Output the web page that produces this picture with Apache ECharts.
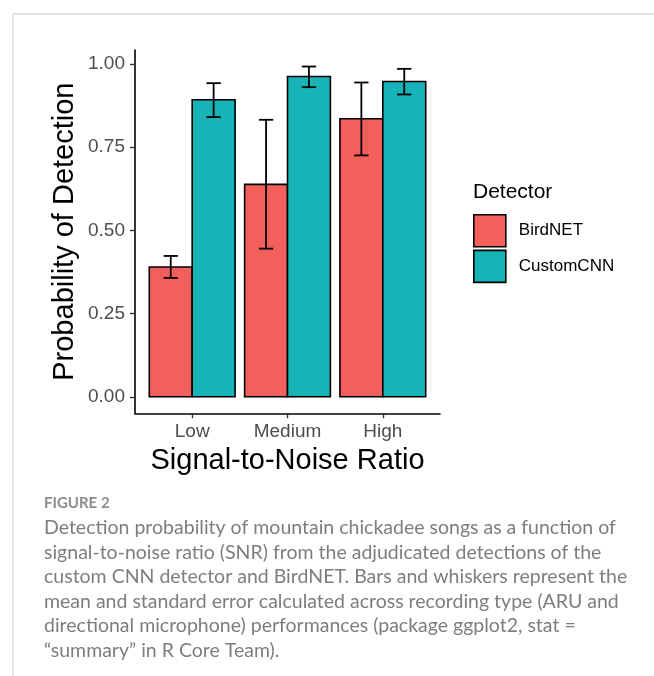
<!DOCTYPE html>
<html>
<head>
<meta charset="utf-8">
<script src="https://cdn.jsdelivr.net/npm/echarts@6/dist/echarts.min.js"></script>
<style>
  html, body { margin: 0; padding: 0; background: #fff; }
  #chart { width: 654px; height: 676px; }
</style>
</head>
<body>
<div id="chart"></div>
<script>
// SNR classes on the x axis (positions 1..3)
const categories = ['Low', 'Medium', 'High'];
const detectors = ['BirdNET', 'CustomCNN'];

// Mean detection probability and standard-error bounds per SNR class
const birdnetMean = [0.390, 0.638, 0.835];
const birdnetLow  = [0.357, 0.445, 0.725];
const birdnetHigh = [0.423, 0.832, 0.944];

const cnnMean = [0.892, 0.962, 0.947];
const cnnLow  = [0.840, 0.930, 0.908];
const cnnHigh = [0.942, 0.992, 0.985];

const yTicks = [0, 0.25, 0.5, 0.75, 1.0];
const yTickLabels = ['0.00', '0.25', '0.50', '0.75', '1.00'];

const captionLines = [
  'Detection probability of mountain chickadee songs as a function of',
  'signal-to-noise ratio (SNR) from the adjudicated detections of the',
  'custom CNN detector and BirdNET. Bars and whiskers represent the',
  'mean and standard error calculated across recording type (ARU and',
  'directional microphone) performances (package ggplot2, stat =',
  '\u201csummary\u201d in R Core Team).'
];

const colors = { BirdNET: '#F35F5B', CustomCNN: '#18B3B7' };
const dodge = 0.225;     // half of the dodge width (0.45 per bar)
const barHalf = 0.225;
const capHalf = 0.075;

function rows(mean, lo, hi, off) {
  return mean.map((m, i) => [i + 1 + off, m, lo[i], hi[i]]);
}

const birdRows = rows(birdnetMean, birdnetLow, birdnetHigh, -dodge);
const cnnRows = rows(cnnMean, cnnLow, cnnHigh, dodge);

// y range expanded by 5% of the data range, like ggplot's default
const dataMax = Math.max(...birdnetHigh, ...cnnHigh);
const yMin = -0.05 * dataMax;
const yMax = dataMax * 1.05;

function renderBar(color) {
  return function (params, api) {
    const x = api.value(0), m = api.value(1);
    const p0 = api.coord([x - barHalf, m]);
    const p1 = api.coord([x + barHalf, 0]);
    return {
      type: 'rect',
      shape: { x: p0[0], y: p0[1], width: p1[0] - p0[0], height: p1[1] - p0[1] },
      style: { fill: color, stroke: '#000', lineWidth: 1.6 }
    };
  };
}

function renderErr(params, api) {
  const x = api.value(0), lo = api.value(2), hi = api.value(3);
  const top = api.coord([x, hi]);
  const bot = api.coord([x, lo]);
  const cl = api.coord([x - capHalf, hi])[0];
  const cr = api.coord([x + capHalf, hi])[0];
  const st = { stroke: '#000', lineWidth: 1.8 };
  return {
    type: 'group',
    children: [
      { type: 'line', shape: { x1: top[0], y1: top[1], x2: bot[0], y2: bot[1] }, style: st },
      { type: 'line', shape: { x1: cl, y1: top[1], x2: cr, y2: top[1] }, style: st },
      { type: 'line', shape: { x1: cl, y1: bot[1], x2: cr, y2: bot[1] }, style: st }
    ]
  };
}

const font = '"Liberation Sans", Arial, sans-serif';
const capFont = 'Lato, "Open Sans", sans-serif';

const graphics = [
  { type: 'line', shape: { x1: 13, y1: 14, x2: 654, y2: 14 }, style: { stroke: '#d9d9d9', lineWidth: 1.5 } },
  { type: 'line', shape: { x1: 13, y1: 14, x2: 13, y2: 676 }, style: { stroke: '#d9d9d9', lineWidth: 1.5 } },
  { type: 'text', left: 473, top: 182, style: { text: 'Detector', font: '21px ' + font, fill: '#000' } },
  { type: 'text', left: 44, top: 496, style: { text: 'FIGURE 2', font: 'bold 15px ' + capFont, fill: '#8c8c8c' } }
];
captionLines.forEach((t, i) => {
  graphics.push({
    type: 'text', left: 44, top: 518 + i * 24.5,
    style: { text: t, font: '19.5px ' + capFont, fill: '#7d7d7d' }
  });
});

const chart = echarts.init(document.getElementById('chart'));
chart.setOption({
  animation: false,
  backgroundColor: '#fff',
  grid: { left: 135, right: 214, top: 50, bottom: 262.7 },
  xAxis: {
    type: 'value', min: 0.4, max: 3.6,
    splitLine: { show: false },
    axisLine: { show: true, onZero: false, lineStyle: { color: '#000', width: 1.6 } },
    axisTick: { show: true, length: 5, customValues: [1, 2, 3], lineStyle: { color: '#333', width: 1.4 } },
    axisLabel: {
      customValues: [1, 2, 3], margin: 9,
      formatter: v => categories[Math.round(v) - 1] || '',
      color: '#4D4D4D', fontSize: 19, fontFamily: font
    },
    name: 'Signal-to-Noise Ratio', nameLocation: 'middle', nameGap: 33,
    nameTextStyle: { color: '#000', fontSize: 29, fontFamily: font }
  },
  yAxis: {
    type: 'value', min: yMin, max: yMax,
    splitLine: { show: false },
    axisLine: { show: true, onZero: false, lineStyle: { color: '#000', width: 1.6 } },
    axisTick: { show: true, length: 5, customValues: yTicks, lineStyle: { color: '#333', width: 1.4 } },
    axisLabel: {
      customValues: yTicks, margin: 10,
      formatter: v => yTickLabels[yTicks.indexOf(Math.round(v * 100) / 100)] || '',
      color: '#4D4D4D', fontSize: 19, fontFamily: font
    },
    name: 'Probability of Detection', nameLocation: 'middle', nameGap: 56, nameRotate: 90,
    nameTextStyle: { color: '#000', fontSize: 29, fontFamily: font }
  },
  legend: {
    orient: 'vertical', left: 473, top: 214, padding: 0,
    itemWidth: 32, itemHeight: 32, itemGap: 2,
    textStyle: { fontSize: 17, fontFamily: font, color: '#000', padding: [0, 0, 0, 8] },
    data: detectors.map(d => ({
      name: d, icon: 'rect',
      itemStyle: { color: colors[d], borderColor: '#000', borderWidth: 1.6 }
    }))
  },
  series: [
    { name: 'BirdNET', type: 'custom', renderItem: renderBar(colors.BirdNET), data: birdRows,
      itemStyle: { color: colors.BirdNET }, encode: { x: 0, y: 1 }, z: 2 },
    { name: 'CustomCNN', type: 'custom', renderItem: renderBar(colors.CustomCNN), data: cnnRows,
      itemStyle: { color: colors.CustomCNN }, encode: { x: 0, y: 1 }, z: 2 },
    { name: 'errors', type: 'custom', renderItem: renderErr, data: birdRows.concat(cnnRows),
      encode: { x: 0, y: [2, 3] }, z: 3 }
  ],
  graphic: graphics
});
</script>
</body>
</html>
